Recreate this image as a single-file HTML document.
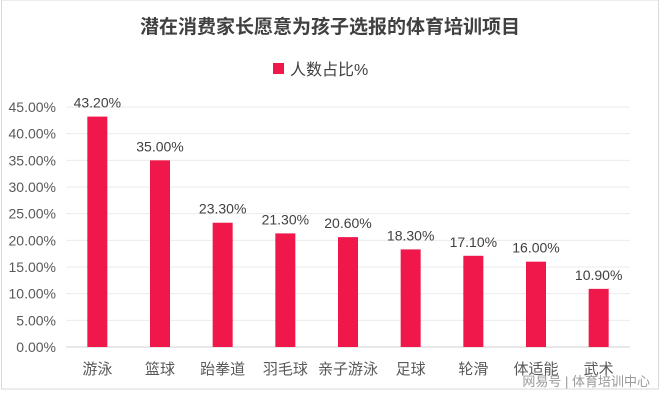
<!DOCTYPE html>
<html><head><meta charset="utf-8"><style>
html,body{margin:0;padding:0;background:#fff;}
body{width:660px;height:400px;overflow:hidden;font-family:"Liberation Sans","Noto Sans CJK SC",sans-serif;}
</style></head><body>
<svg width="660" height="400" xmlns="http://www.w3.org/2000/svg" style="font-family:'Liberation Sans','Noto Sans CJK SC',sans-serif">
<rect x="1.5" y="0" width="657" height="389" fill="#fff" stroke="#d9d9d9"/>
<text x="330" y="33" text-anchor="middle" font-size="19" font-weight="bold" fill="#404040">潜在消费家长愿意为孩子选报的体育培训项目</text>
<rect x="273" y="63" width="11" height="11" fill="#f0174b"/>
<text x="290" y="75" font-size="16" fill="#404040">人数占比%</text>
<g id="grid"></g><g id="bars"></g>
<text x="650" y="386" text-anchor="end" font-size="13" fill="#999">网易号 | 体育培训中心</text>
</svg>
<script>
const categories=["游泳","篮球","跆拳道","羽毛球","亲子游泳","足球","轮滑","体适能","武术"];
const values=[43.2,35.0,23.3,21.3,20.6,18.3,17.1,16.0,10.9];
const ticks=[0,5,10,15,20,25,30,35,40,45];
const NS="http://www.w3.org/2000/svg";
const x0=66,x1=630,y0=347,yTop=107,maxV=45;
const y=v=>y0-(v/maxV)*(y0-yTop);
const band=(x1-x0)/categories.length;
const xc=i=>x0+band*(i+0.5);
function mk(t,a,p){const e=document.createElementNS(NS,t);for(const k in a)e.setAttribute(k,a[k]);p.appendChild(e);return e;}
const g=document.getElementById('grid'),b=document.getElementById('bars');
ticks.forEach(t=>{
 const l=mk('line',{x1:x0,x2:x1,y1:y(t),y2:y(t),stroke:t===0?'#d0d0d0':'#ebebeb','stroke-width':1},g);
 
 
 const tx=mk('text',{x:56,y:y(t)+5,'text-anchor':'end','font-size':14,fill:'#595959'},g);
 tx.textContent=t.toFixed(2)+'%';
 
 
});
categories.forEach((c,i)=>{
 const r=mk('rect',{x:xc(i)-10,y:y(values[i]),width:20,height:y0-y(values[i]),fill:'#f0174b'},b);
 
 
 const v=mk('text',{x:xc(i),y:y(values[i])-9,'text-anchor':'middle','font-size':14,fill:'#404040'},b);
 v.textContent=values[i].toFixed(2)+'%';
 
 
 const cl=mk('text',{x:xc(i),y:374,'text-anchor':'middle','font-size':15,fill:'#595959'},b);
 cl.textContent=c;
 
 
});
</script>
</body></html>
